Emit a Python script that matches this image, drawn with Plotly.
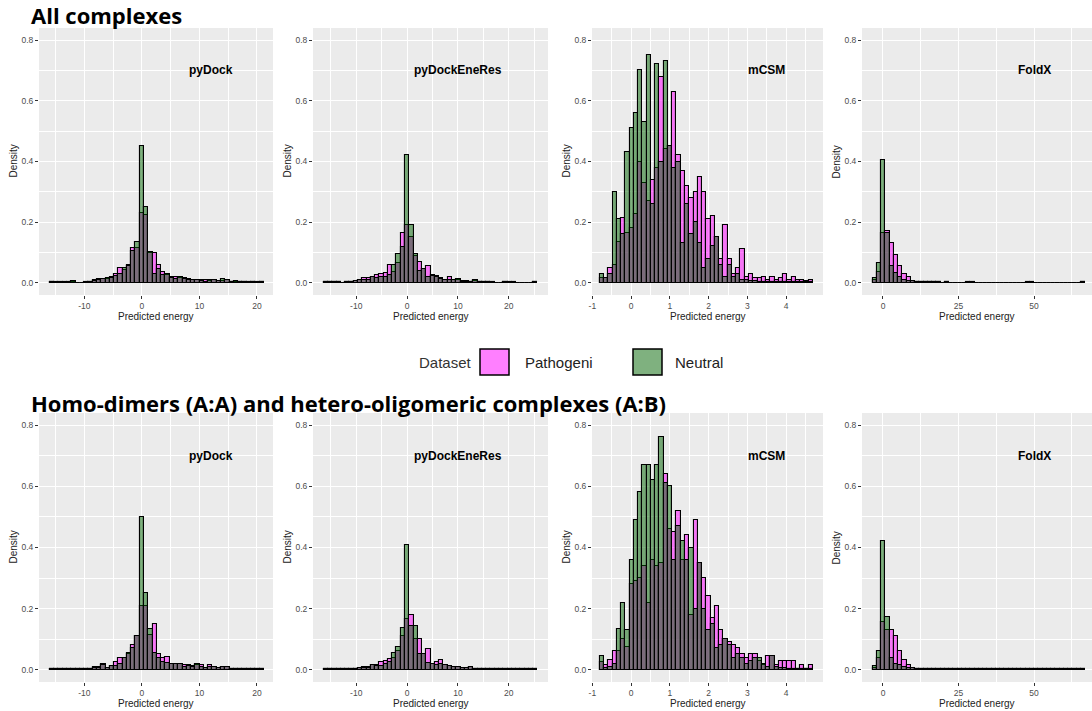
import plotly.graph_objects as go

# ---------------- data (densities, 50 bins per panel) -------------
METHODS = ["pyDock", "pyDockEneRes", "mCSM", "FoldX"]
BIN_START = [-16.0, -16.38, -0.81, -3.4]
BIN_WIDTH = [0.744, 0.84, 0.11, 1.406]
SERIES = ["Pathogeni", "Neutral"]
SECTION_TITLES = ["All complexes", "Homo-dimers (A:A) and hetero-oligomeric complexes (A:B)"]

all_pydock_path = [0.002,0.001,0.001,0.001,0.002,0.004,0.001,0.001,0.002,0.004,
                   0.008,0.012,0.014,0.013,0.020,0.030,0.050,0.042,0.060,0.115,
                   0.115,0.230,0.225,0.098,0.100,0.060,0.035,0.025,0.020,0.020,
                   0.016,0.015,0.012,0.010,0.008,0.010,0.008,0.007,0.009,0.005,
                   0.007,0.008,0.004,0.004,0.003,0.002,0.002,0.002,0.001,0.002]
all_pydock_neut = [0.002,0.002,0.002,0.002,0.001,0.006,0.001,0.001,0.001,0.003,
                   0.005,0.010,0.012,0.015,0.015,0.022,0.030,0.050,0.055,0.105,
                   0.135,0.450,0.250,0.103,0.028,0.045,0.025,0.028,0.015,0.012,
                   0.018,0.012,0.010,0.008,0.010,0.006,0.004,0.010,0.010,0.006,
                   0.012,0.008,0.003,0.005,0.002,0.002,0.001,0.002,0.002,0.002]

all_eneres_path = [0.002,0.003,0.003,0.002,0.001,0.002,0.003,0.006,0.010,0.017,
                   0.015,0.020,0.026,0.028,0.032,0.059,0.035,0.064,0.165,0.190,
                   0.150,0.090,0.068,0.045,0.057,0.026,0.022,0.015,0.010,0.020,
                   0.010,0.010,0.006,0.005,0.004,0.005,0.004,0.003,0.002,0.002,
                   0.001,0.001,0.002,0.002,0.002,0.001,0.001,0.001,0.001,0.002]
all_eneres_neut = [0.002,0.004,0.003,0.002,0.001,0.002,0.004,0.005,0.008,0.008,
                   0.010,0.018,0.015,0.018,0.020,0.026,0.059,0.094,0.117,0.420,
                   0.190,0.094,0.040,0.047,0.020,0.024,0.020,0.012,0.010,0.008,
                   0.008,0.012,0.004,0.004,0.003,0.008,0.002,0.002,0.002,0.001,
                   0.001,0.001,0.002,0.001,0.001,0.001,0.001,0.001,0.001,0.002]

all_mcsm_path = [0.015,0.016,0.049,0.058,0.134,0.213,0.165,0.180,0.227,0.400,
                 0.330,0.270,0.340,0.380,0.680,0.440,0.450,0.630,0.420,0.370,
                 0.320,0.280,0.300,0.350,0.300,0.210,0.220,0.150,0.080,0.190,
                 0.080,0.030,0.050,0.110,0.020,0.030,0.015,0.015,0.020,0.010,
                 0.020,0.010,0.015,0.030,0.010,0.020,0.010,0.010,0.005,0.010]
all_mcsm_neut = [0.030,0.016,0.028,0.300,0.210,0.160,0.430,0.510,0.560,0.700,
                 0.530,0.750,0.260,0.720,0.400,0.730,0.450,0.380,0.400,0.130,
                 0.260,0.160,0.200,0.130,0.050,0.080,0.120,0.150,0.060,0.020,
                 0.060,0.020,0.030,0.010,0.010,0.005,0.005,0.003,0.003,0.002,
                 0.002,0.002,0.002,0.002,0.002,0.002,0.002,0.002,0.002,0.002]

all_foldx_path = [0.008,0.037,0.163,0.170,0.130,0.092,0.054,0.030,0.018,0.006,
                  0.004,0.003,0.003,0.002,0.003,0.002,0.001,0.002,0.001,0.001,
                  0.001,0.001,0.001,0.002,0.001,0.001,0.001,0.001,0.001,0.001,
                  0.001,0.001,0.001,0.001,0.001,0.001,0.002,0.001,0.001,0.001,
                  0.001,0.001,0.001,0.001,0.001,0.001,0.001,0.001,0.001,0.002]
all_foldx_neut = [0.017,0.064,0.405,0.165,0.054,0.032,0.020,0.010,0.005,0.006,
                  0.004,0.002,0.003,0.002,0.002,0.002,0.001,0.002,0.001,0.001,
                  0.001,0.001,0.002,0.001,0.001,0.001,0.001,0.001,0.001,0.001,
                  0.001,0.001,0.001,0.001,0.001,0.001,0.001,0.002,0.001,0.001,
                  0.001,0.001,0.001,0.001,0.001,0.001,0.001,0.001,0.001,0.002]

het_pydock_path = [0.002,0.001,0.001,0.001,0.001,0.001,0.001,0.001,0.001,0.002,
                   0.008,0.010,0.020,0.005,0.012,0.025,0.040,0.040,0.050,0.080,
                   0.110,0.210,0.210,0.115,0.150,0.052,0.040,0.042,0.020,0.020,
                   0.018,0.015,0.015,0.012,0.015,0.015,0.005,0.015,0.010,0.005,
                   0.008,0.010,0.003,0.003,0.002,0.002,0.002,0.001,0.001,0.002]
het_pydock_neut = [0.002,0.002,0.001,0.001,0.001,0.001,0.001,0.001,0.001,0.001,
                   0.005,0.006,0.015,0.005,0.012,0.012,0.020,0.040,0.055,0.070,
                   0.110,0.500,0.250,0.133,0.055,0.038,0.025,0.022,0.020,0.018,
                   0.018,0.010,0.012,0.010,0.020,0.008,0.005,0.008,0.008,0.005,
                   0.010,0.008,0.003,0.003,0.002,0.002,0.002,0.001,0.001,0.002]

het_eneres_path = [0.002,0.002,0.002,0.001,0.001,0.002,0.002,0.004,0.005,0.010,
                   0.010,0.015,0.015,0.025,0.030,0.035,0.038,0.060,0.110,0.166,
                   0.180,0.100,0.100,0.050,0.068,0.020,0.027,0.033,0.015,0.013,
                   0.010,0.010,0.005,0.005,0.008,0.003,0.003,0.002,0.002,0.002,
                   0.004,0.002,0.001,0.001,0.001,0.001,0.001,0.001,0.001,0.002]
het_eneres_neut = [0.002,0.002,0.002,0.001,0.001,0.002,0.002,0.004,0.005,0.005,
                   0.006,0.015,0.012,0.012,0.020,0.025,0.055,0.075,0.137,0.408,
                   0.142,0.142,0.050,0.050,0.022,0.018,0.015,0.020,0.015,0.012,
                   0.010,0.008,0.005,0.005,0.008,0.003,0.003,0.002,0.002,0.002,
                   0.004,0.002,0.001,0.001,0.001,0.001,0.001,0.001,0.001,0.002]

het_mcsm_path = [0.027,0.016,0.033,0.060,0.060,0.100,0.075,0.280,0.290,0.300,
                 0.340,0.220,0.360,0.340,0.350,0.640,0.460,0.450,0.520,0.360,
                 0.440,0.180,0.490,0.350,0.300,0.240,0.170,0.210,0.130,0.100,
                 0.090,0.080,0.070,0.050,0.040,0.050,0.050,0.030,0.015,0.045,
                 0.045,0.015,0.030,0.030,0.030,0.030,0.002,0.015,0.002,0.015]
het_mcsm_neut = [0.046,0.005,0.010,0.020,0.135,0.220,0.130,0.360,0.490,0.580,
                 0.670,0.670,0.620,0.670,0.760,0.610,0.600,0.360,0.470,0.420,
                 0.360,0.400,0.200,0.350,0.200,0.130,0.150,0.070,0.080,0.100,
                 0.080,0.040,0.050,0.040,0.020,0.030,0.040,0.040,0.020,0.010,
                 0.045,0.010,0.005,0.005,0.002,0.002,0.002,0.002,0.002,0.002]

het_foldx_path = [0.005,0.040,0.155,0.130,0.130,0.110,0.063,0.033,0.016,0.005,
                  0.003,0.002,0.002,0.004,0.002,0.001,0.001,0.002,0.001,0.001,
                  0.001,0.001,0.001,0.001,0.001,0.002,0.001,0.001,0.001,0.001,
                  0.001,0.001,0.001,0.001,0.001,0.001,0.001,0.002,0.001,0.001,
                  0.001,0.001,0.001,0.001,0.001,0.001,0.001,0.001,0.001,0.002]
het_foldx_neut = [0.013,0.063,0.420,0.174,0.038,0.020,0.016,0.010,0.005,0.005,
                  0.003,0.002,0.003,0.004,0.002,0.002,0.001,0.002,0.001,0.001,
                  0.001,0.001,0.002,0.001,0.001,0.001,0.001,0.001,0.001,0.001,
                  0.001,0.001,0.001,0.001,0.001,0.001,0.002,0.001,0.001,0.001,
                  0.001,0.001,0.001,0.001,0.001,0.001,0.001,0.001,0.001,0.002]

ROWS = [
    [(all_pydock_path, all_pydock_neut), (all_eneres_path, all_eneres_neut),
     (all_mcsm_path, all_mcsm_neut), (all_foldx_path, all_foldx_neut)],
    [(het_pydock_path, het_pydock_neut), (het_eneres_path, het_eneres_neut),
     (het_mcsm_path, het_mcsm_neut), (het_foldx_path, het_foldx_neut)],
]

X_TICKS = [[-10, 0, 10, 20], [-10, 0, 10, 20], [-1, 0, 1, 2, 3, 4], [0, 25, 50]]
X_MINOR = [[-15, -5, 5, 15], [-15, -5, 5, 15, 25], [-0.5, 0.5, 1.5, 2.5, 3.5, 4.5], [12.5, 37.5, 62.5]]
Y_TICKS = [0.0, 0.2, 0.4, 0.6, 0.8]
LABEL_X = [12, 10, 3.5, 50]
LABEL_Y = 0.7

# ---------------- layout / style -------------
W, H = 1092, 711
def fx(px): return px / W
def fy(py): return 1 - py / H

COLS_PX = [(39, 273), (313, 548), (592, 823), (862, 1092)]
ROWS_PX = [(28, 295), (413, 682)]
X_RANGES = [[-17.9, 22.8], [-18.5, 27.7], [-1.01, 4.95], [-6.95, 69.2]]
Y_RANGE = [-0.04, 0.84]

FILL = {"Pathogeni": "rgba(255,0,255,0.5)", "Neutral": "rgba(0,100,0,0.5)"}
TXT = "Liberation Sans, Arial, sans-serif"

fig = go.Figure()
layout = {}
annotations = []
idx = 0
for r, row in enumerate(ROWS):
    for c, (path_vals, neut_vals) in enumerate(row):
        idx += 1
        xa = "x" if idx == 1 else f"x{idx}"
        ya = "y" if idx == 1 else f"y{idx}"
        centers = [BIN_START[c] + BIN_WIDTH[c] * (k + 0.5) for k in range(len(path_vals))]
        for name, vals in zip(SERIES, (path_vals, neut_vals)):
            fig.add_trace(go.Bar(
                x=centers, y=vals, width=BIN_WIDTH[c], name=name,
                marker=dict(color=FILL[name], line=dict(color="black", width=1.1)),
                xaxis=xa, yaxis=ya, showlegend=False))
        xkey = "xaxis" if idx == 1 else f"xaxis{idx}"
        ykey = "yaxis" if idx == 1 else f"yaxis{idx}"
        x0, x1 = COLS_PX[c]
        y0, y1 = ROWS_PX[r]
        layout[xkey] = dict(
            domain=[fx(x0), fx(x1)], anchor=ya, range=X_RANGES[c], automargin=False,
            tickmode="array", tickvals=X_TICKS[c],
            ticktext=[str(v) for v in X_TICKS[c]],
            ticks="outside", ticklen=3, tickwidth=1, tickcolor="#333333",
            tickfont=dict(family=TXT, size=8.5, color="#4D4D4D"),
            showgrid=True, gridcolor="white", gridwidth=1.2, zeroline=False,
            minor=dict(tickmode="array", tickvals=X_MINOR[c], showgrid=True,
                       gridcolor="white", gridwidth=0.6),
            showline=False, fixedrange=True)
        layout[ykey] = dict(
            domain=[fy(y1), fy(y0)], anchor=xa, range=Y_RANGE, automargin=False,
            tickmode="array", tickvals=Y_TICKS, ticktext=[f"{v:.1f}" for v in Y_TICKS],
            ticks="outside", ticklen=3, tickwidth=1, tickcolor="#333333",
            tickfont=dict(family=TXT, size=8.5, color="#4D4D4D"),
            showgrid=True, gridcolor="white", gridwidth=1.2, zeroline=False,
            minor=dict(tickmode="array", tickvals=[0.1, 0.3, 0.5, 0.7], showgrid=True,
                       gridcolor="white", gridwidth=0.6),
            showline=False, fixedrange=True)
        # method label inside panel
        annotations.append(dict(
            text=f"<b>{METHODS[c]}</b>", x=LABEL_X[c], y=LABEL_Y, xref=xa, yref=ya,
            showarrow=False, font=dict(family=TXT, size=12, color="black"),
            xanchor="center", yanchor="middle"))
        # axis titles
        annotations.append(dict(
            text="Predicted energy", x=fx((x0 + x1) / 2), y=fy(y1 + 21),
            xref="paper", yref="paper", showarrow=False,
            font=dict(family=TXT, size=10, color="#222222"),
            xanchor="center", yanchor="middle"))
        annotations.append(dict(
            text="Density", x=fx(x0 - 26), y=fy((y0 + y1) / 2),
            xref="paper", yref="paper", showarrow=False, textangle=-90,
            font=dict(family=TXT, size=10, color="#222222"),
            xanchor="center", yanchor="middle"))

# section titles
for title, py in zip(SECTION_TITLES, (15, 403)):
    annotations.append(dict(
        text=f"<b>{title}</b>", x=fx(29), y=fy(py), xref="paper", yref="paper",
        showarrow=False, font=dict(family="Open Sans, sans-serif", size=22, color="black"),
        xanchor="left", yanchor="middle"))

# legend (drawn manually to match large key boxes)
shapes = []
annotations.append(dict(text="Dataset", x=fx(445), y=fy(362), xref="paper", yref="paper",
                        showarrow=False, font=dict(family=TXT, size=15, color="#333333"),
                        xanchor="center", yanchor="middle"))
for name, bx, tx in zip(SERIES, (480, 633), (523, 673)):
    shapes.append(dict(type="rect", xref="paper", yref="paper",
                       x0=fx(bx), x1=fx(bx + 29), y0=fy(375), y1=fy(349),
                       fillcolor=FILL[name], line=dict(color="black", width=1.5)))
    annotations.append(dict(text=name, x=fx(tx), y=fy(362), xref="paper", yref="paper",
                            showarrow=False, font=dict(family=TXT, size=15, color="#222222"),
                            xanchor="left", yanchor="middle"))

fig.update_layout(
    width=W, height=H, margin=dict(l=0, r=0, t=0, b=0, autoexpand=False),
    paper_bgcolor="white", plot_bgcolor="#EBEBEB",
    barmode="overlay", bargap=0, showlegend=False,
    annotations=annotations, shapes=shapes, **layout)

fig.write_html("out.html")
